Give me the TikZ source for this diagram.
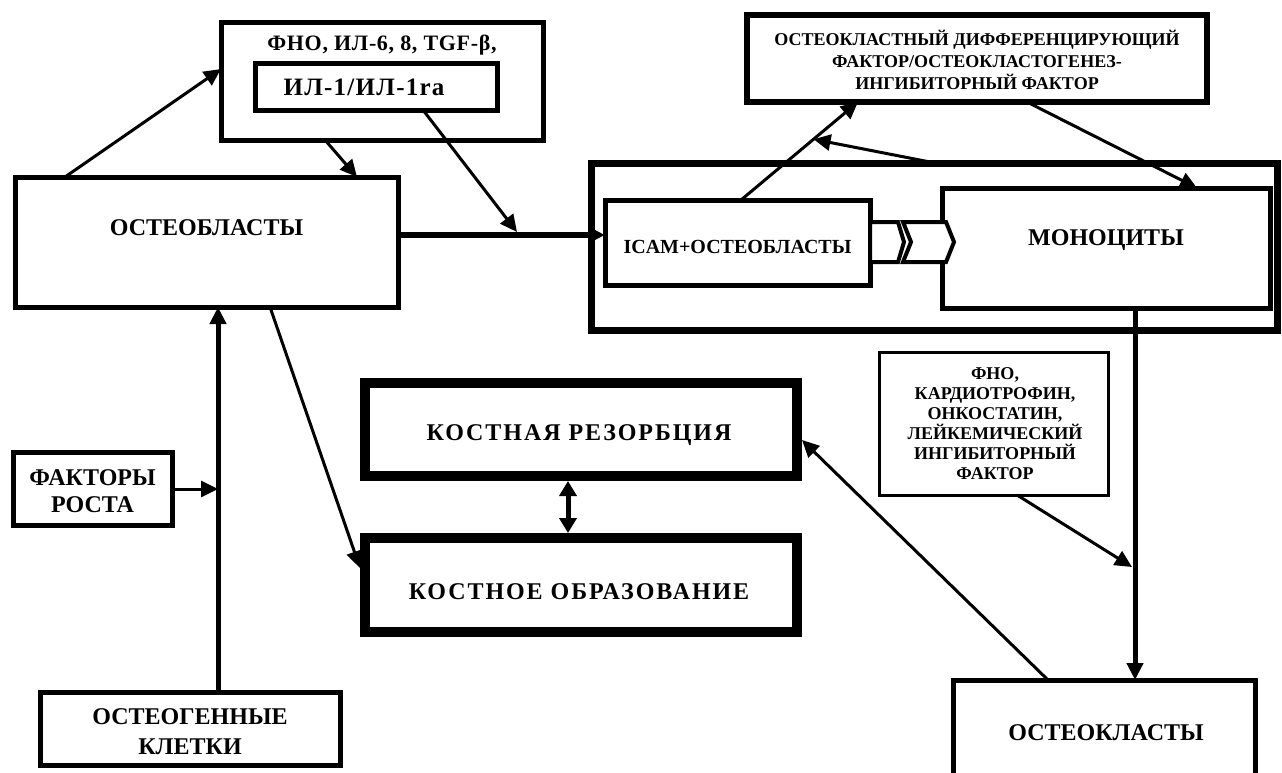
\documentclass[tikz,border=0pt]{standalone}
\usepackage{fontspec}
\setmainfont{Liberation Serif}
\usetikzlibrary{arrows.meta,calc}
\begin{document}
\begin{tikzpicture}[x=1pt,y=-1pt,
  box/.style={draw, line width=#1, fill=white, inner sep=0pt},
  box/.default=5pt,
  txt/.style={inner sep=0pt, font=\bfseries\fontsize{24}{27}\selectfont, align=center},
  small/.style={inner sep=0pt, font=\bfseries\fontsize{18}{21}\selectfont, align=center},
  con/.style={line width=3pt, -{Triangle[length=17pt,width=16pt]}},
  dbl/.style={line width=5pt, {Triangle[length=15pt,width=17pt]}-{Triangle[length=15pt,width=17pt]}},
  chev/.style={line width=4pt, fill=white, line join=miter}
]
\useasboundingbox (0,0) rectangle (1282,772);
\clip (0,0) rectangle (1282,772);

% big cell box
\node[box=7pt, fill=none, minimum width=686, minimum height=167] (cell) at (934,246.5) {};

% boxes
\node[box, minimum width=383, minimum height=130] (ob) at (206.5,242) {};
\node[txt] (obt) at (206.5,228) {ОСТЕОБЛАСТЫ};

\node[box, minimum width=322, minimum height=118] (cyt) at (382,81) {};
\node[txt, font=\bfseries\fontsize{22}{24}\selectfont\addfontfeatures{LetterSpace=3}] (cytt) at (382,45) {ФНО, ИЛ-6, 8, TGF-β,};
\node[box, minimum width=242, minimum height=47] (il1) at (376,86.5) {};
\node[txt, font=\bfseries\fontsize{25}{27}\selectfont\addfontfeatures{LetterSpace=5}] (il1t) at (364,87) {ИЛ-1/ИЛ-1ra};

\node[box=6pt, minimum width=460, minimum height=87] (okf) at (977,58.5) {};
\node[small, font=\bfseries\fontsize{18}{22}\selectfont] (okft) at (977,60) {ОСТЕОКЛАСТНЫЙ ДИФФЕРЕНЦИРУЮЩИЙ\\ФАКТОР/ОСТЕОКЛАСТОГЕНЕЗ-\\ИНГИБИТОРНЫЙ ФАКТОР};

\node[box, minimum width=265, minimum height=85] (icam) at (737.5,242.5) {};
\node[small, font=\bfseries\fontsize{20}{22}\selectfont] (icamt) at (737.5,247) {ICAM+ОСТЕОБЛАСТЫ};

\node[box, minimum width=328, minimum height=120] (mono) at (1106,248) {};
\node[txt] (monot) at (1106,240) {МОНОЦИТЫ};

\draw[chev] (870,222) -- (898,222) -- (904,242) -- (898,262) -- (870,262) -- cycle;
\draw[chev] (903,222) -- (946,222) -- (954,242) -- (946,262) -- (903,262) -- (911,242) -- cycle;

\node[box=3pt, minimum width=229, minimum height=143] (rf) at (993.5,423.5) {};
\node[small, font=\bfseries\fontsize{18}{20}\selectfont] (rft) at (995,424) {ФНО,\\КАРДИОТРОФИН,\\ОНКОСТАТИН,\\ЛЕЙКЕМИЧЕСКИЙ\\ИНГИБИТОРНЫЙ\\ФАКТОР};

\node[box=10pt, minimum width=432, minimum height=93] (kr) at (581,429.5) {};
\node[txt, font=\bfseries\fontsize{24}{27}\selectfont\addfontfeatures{LetterSpace=8}] (krt) at (579,435) {КОСТНАЯ РЕЗОРБЦИЯ};
\node[box=10pt, minimum width=432, minimum height=94] (ko) at (581,585) {};
\node[txt, font=\bfseries\fontsize{24}{27}\selectfont\addfontfeatures{LetterSpace=8}] (kot) at (579,592) {КОСТНОЕ ОБРАЗОВАНИЕ};

\node[box, minimum width=302, minimum height=120] (oc) at (1104,740) {};
\node[txt] (oct) at (1106,733) {ОСТЕОКЛАСТЫ};

\node[box, minimum width=159, minimum height=73] (fr) at (92.5,488.5) {};
\node[txt] (frt) at (92.5,491) {ФАКТОРЫ\\РОСТА};

\node[box, minimum width=300, minimum height=73] (og) at (190,728.5) {};
\node[txt, font=\bfseries\fontsize{24}{30}\selectfont] (ogt) at (190,732) {ОСТЕОГЕННЫЕ\\КЛЕТКИ};

% connector points
\coordinate (a1) at (65,177);   \coordinate (a2) at (221,69);
\coordinate (b1) at (325,140);  \coordinate (b2) at (357,177);
\coordinate (c1) at (423,110);  \coordinate (c2) at (517,232);
\coordinate (d1) at (398,235);  \coordinate (d2) at (605,235);
\coordinate (e1) at (741,200);  \coordinate (e2) at (858,102);
\coordinate (f1) at (930,162);  \coordinate (f2) at ($(e1)!0.62!(e2)$);
\coordinate (g1) at (1027,102); \coordinate (g2) at (1197,188);
\coordinate (h1) at (1135,308); \coordinate (h2) at (1135,680);
\coordinate (i1) at (1017,495); \coordinate (i2) at (1132,567);
\coordinate (j1) at (1048,680); \coordinate (j2) at (802,440);
\coordinate (k1) at (568,481);  \coordinate (k2) at (568,533);
\coordinate (l1) at (270,307);  \coordinate (l2) at (360,568);
\coordinate (m1) at (218,692);  \coordinate (m2) at (218,307);
\coordinate (n1) at (172,489);  \coordinate (n2) at (218,489);

\draw[con] (a1) -- (a2);
\draw[con] (b1) -- (b2);
\draw[con] (c1) -- (c2);
\draw[con, line width=6pt] (d1) -- (d2);
\draw[con] (e1) -- (e2);
\draw[con] (f1) -- (f2);
\draw[con] (g1) -- (g2);
\draw[con, line width=5pt] (h1) -- (h2);
\draw[con] (i1) -- (i2);
\draw[con] (j1) -- (j2);
\draw[dbl] (k1) -- (k2);
\draw[con] (l1) -- (l2);
\draw[con, line width=5pt] (m1) -- (m2);
\draw[con] (n1) -- (n2);
\end{tikzpicture}
\end{document}
